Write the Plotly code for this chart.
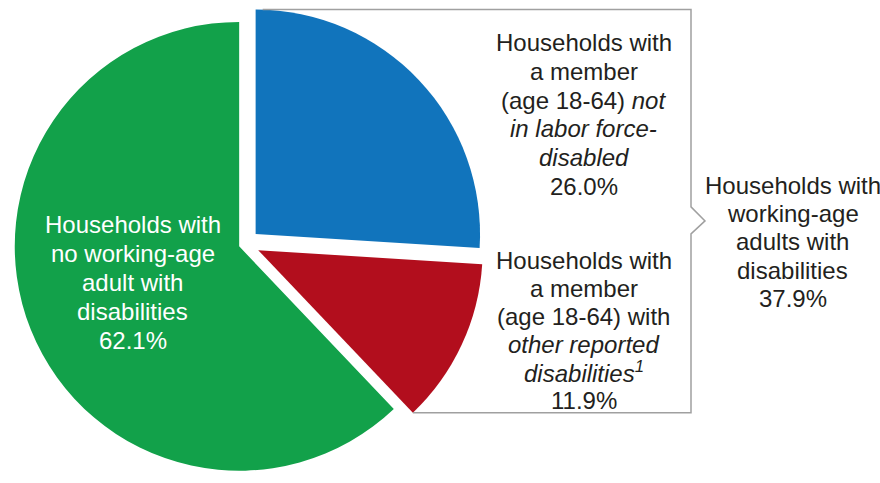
import math
import plotly.graph_objects as go

# ---------------- data ----------------
categories = [
    "Households with a member (age 18-64) not in labor force-disabled",
    "Households with a member (age 18-64) with other reported disabilities",
    "Households with no working-age adult with disabilities",
]
shares = [26.0, 11.9, 62.1]
slice_colors = ["#1174BC", "#B20E1D", "#12A14A"]
pulls = [0.065, 0.065, 0.028]

blue_lines = ["Households with", "a member", "(age 18-64) <i>not</i>",
              "<i>in labor force-</i>", "<i>disabled</i>", f"{shares[0]:.1f}%"]
red_lines = ["Households with", "a member", "(age 18-64) with",
             "<i>other reported</i>", "<i>disabilities<sup>1</sup></i>", f"{shares[1]:.1f}%"]
green_lines = ["Households with", "no working-age", "adult with",
               "disabilities", f"{shares[2]:.1f}%"]
group_lines = ["Households with", "working-age", "adults with",
               "disabilities", f"{shares[0] + shares[1]:.1f}%"]

# ---------------- layout geometry ----------------
W, H = 880, 483
pie_cx = 245.0
pie_box = 478.0
dom_x = [(pie_cx - pie_box / 2) / W, (pie_cx + pie_box / 2) / W]
dom_y = [0.0, pie_box / H]
pie_cy = H - pie_box / 2
r = pie_box / 2 / (1 + max(pulls))

def px(x):
    return x / W

def py(y):
    return 1 - y / H

# slice angles (clockwise from 12 o'clock)
total = sum(shares)
starts, ends = [], []
acc = 0.0
for s in shares:
    starts.append(acc / total * 360)
    acc += s
    ends.append(acc / total * 360)

def vertex(i):
    mid = math.radians((starts[i] + ends[i]) / 2)
    d = pulls[i] * r
    return pie_cx + d * math.sin(mid), pie_cy - d * math.cos(mid)

bvx, bvy = vertex(0)
rvx, rvy = vertex(1)
tip_ang = math.radians(ends[1])
red_tip = (rvx + r * math.sin(tip_ang), rvy - r * math.cos(tip_ang))
top_y = bvy - r
bracket_x = 691
top_start_x = bvx + 7
arrow_mid = top_y + 0.524 * (red_tip[1] - top_y)

fig = go.Figure(go.Pie(
    labels=categories,
    values=shares,
    sort=False,
    direction="clockwise",
    rotation=0,
    pull=pulls,
    marker=dict(colors=slice_colors, line=dict(width=0)),
    textinfo="none",
    hoverinfo="label+percent",
    domain=dict(x=dom_x, y=dom_y),
    showlegend=False,
))

path = (f"M {px(top_start_x)},{py(top_y)} L {px(bracket_x)},{py(top_y)} "
        f"L {px(bracket_x)},{py(arrow_mid - 14)} L {px(bracket_x + 14)},{py(arrow_mid)} "
        f"L {px(bracket_x)},{py(arrow_mid + 13)} L {px(bracket_x)},{py(red_tip[1])} "
        f"L {px(red_tip[0])},{py(red_tip[1])}")
fig.add_shape(type="path", path=path, xref="paper", yref="paper",
              line=dict(color="#A0A0A0", width=1.5))

FONT = "Liberation Sans, Arial, sans-serif"

def add_block(lines, cx, y0, step, color):
    for k, t in enumerate(lines):
        fig.add_annotation(x=px(cx), y=py(y0 + k * step), xref="paper", yref="paper",
                           text=t, showarrow=False, xanchor="center", yanchor="middle",
                           font=dict(family=FONT, size=24, color=color))

add_block(blue_lines, 583.5, 43, 28.6, "#231F20")
add_block(red_lines, 583.5, 260, 28.0, "#231F20")
add_block(group_lines, 792.5, 185, 28.4, "#231F20")
add_block(green_lines, 132.5, 224, 29.0, "#FFFFFF")

fig.update_layout(
    width=W, height=H,
    margin=dict(l=0, r=0, t=0, b=0),
    paper_bgcolor="white",
    plot_bgcolor="white",
)

fig.write_html("out.html")
